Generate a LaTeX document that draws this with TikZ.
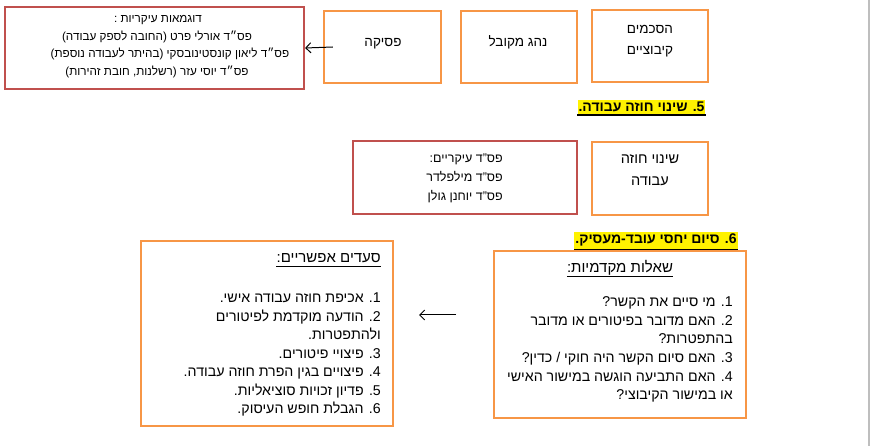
\documentclass[tikz,border=0pt]{standalone}
\usepackage{fontspec}
\setmainfont{Liberation Sans}[Script=Hebrew]
\usetikzlibrary{arrows.meta}
\TeXXeTstate=1
\newcommand\hbline[1]{\beginR#1\endR}
\definecolor{boxorange}{HTML}{F79646}
\definecolor{boxred}{HTML}{C0504D}
\definecolor{pagegray}{RGB}{190,190,190}
\tikzset{
  frame/.style={line width=2.2pt, inner sep=0pt, minimum width=#1},
  obox/.style={draw=boxorange, frame=#1},
  rbox/.style={draw=boxred, frame=#1},
  small/.style={inner sep=0pt, font=\fontsize{11.7}{14}\selectfont},
  body/.style={inner sep=0pt, font=\fontsize{12.5}{15}\selectfont},
  list/.style={inner sep=0pt, font=\fontsize{14.2}{17}\selectfont},
  label/.style={inner sep=0pt, font=\fontsize{13.5}{16}\selectfont},
  title/.style={inner sep=0pt, font=\fontsize{15}{18}\selectfont},
  heading/.style={inner xsep=1pt, inner ysep=2.5pt, fill=yellow, font=\bfseries\fontsize{14}{17}\selectfont},
  link/.style={line width=1pt, -{Straight Barb[length=5pt,width=10pt]}},
  uline/.style={line width=0.9pt},
  hline/.style={line width=1.6pt}
}
\begin{document}
\begin{tikzpicture}[x=1pt,y=-1pt]
\useasboundingbox (0,0) rectangle (870,446);
\draw[pagegray, line width=1.2pt] (869,0) -- (869,446);

% ---- first row: sources of labour law ----
\node[rbox=299pt, minimum height=82pt] (examples) at (154.5,48) {};
\node[obox=117pt, minimum height=72pt] (psika) at (382.5,47) {};
\node[obox=116pt, minimum height=72pt] (nohag) at (519,47) {};
\node[obox=116pt, minimum height=72pt] (heskem) at (650,46) {};

\node[small, anchor=base] (ex1) at (158,23) {\hbline{דוגמאות עיקריות :}};
\node[small, anchor=base] (ex2) at (157,40.5) {\hbline{פס״ד אורלי פרט (החובה לספק עבודה)}};
\node[small, anchor=base] (ex3) at (170,58) {\hbline{פס״ד ליאון קונסטינובסקי (בהיתר לעבודה נוספת)}};
\node[small, anchor=base] (ex4) at (157,76) {\hbline{פס״ד יוסי עזר (רשלנות, חובת זהירות)}};

\node[label, anchor=base] (psikaT) at (383,47) {\hbline{פסיקה}};
\node[label, anchor=base] (nohagT) at (518,47) {\hbline{נהג מקובל}};
\node[label, anchor=base] (heskemT1) at (650,34) {\hbline{הסכמים}};
\node[label, anchor=base] (heskemT2) at (650,55) {\hbline{קיבוציים}};

\draw[link] (psika.west) ++(10pt,0) coordinate (a1) (a1) -- (examples.east);

% ---- section 5 ----
\node[heading, anchor=base] (h5) at (641.5,112) {\hbline{5. שינוי חוזה עבודה.}};
\draw[hline] (h5.south west) -- (h5.south east);

\node[rbox=224pt, minimum height=73pt] (psak) at (465,177.5) {};
\node[obox=116pt, minimum height=73pt] (shinui) at (650,178.5) {};

\node[body, anchor=base east] (ps1) at (503,162.5) {\hbline{פס"ד עיקריים:}};
\node[body, anchor=base east] (ps2) at (503,181.5) {\hbline{פס"ד מילפלדר}};
\node[body, anchor=base east] (ps3) at (503,200.5) {\hbline{פס"ד יוחנן גולן}};

\node[label, font=\fontsize{14.5}{17}\selectfont, anchor=base] (shT1) at (650,164) {\hbline{שינוי חוזה}};
\node[label, font=\fontsize{14.5}{17}\selectfont, anchor=base] (shT2) at (650,186) {\hbline{עבודה}};

% ---- section 6 ----
\node[heading, anchor=base] (h6) at (656,244) {\hbline{6. סיום יחסי עובד-מעסיק.}};
\draw[hline] (h6.south west) -- (h6.south east);

\node[obox=252pt, minimum height=167pt] (sheelot) at (620,334.5) {};
\node[obox=252pt, minimum height=185pt] (sadim) at (267,333.5) {};

\node[title, anchor=base] (qT) at (620,273) {\hbline{שאלות מקדמיות:}};
\draw[uline] ([yshift=-3pt]qT.base west) -- ([yshift=-3pt]qT.base east);
\node[list, anchor=base east] (q1) at (733,306.5) {\hbline{1. מי סיים את הקשר?}};
\node[list, anchor=base east] (q2) at (733,325.5) {\hbline{2. האם מדובר בפיטורים או מדובר}};
\node[list, anchor=base east] (q2b) at (733,343.5) {\hbline{בהתפטרות?}};
\node[list, anchor=base east] (q3) at (733,362.5) {\hbline{3. האם סיום הקשר היה חוקי / כדין?}};
\node[list, anchor=base east] (q4) at (733,381) {\hbline{4. האם התביעה הוגשה במישור האישי}};
\node[list, anchor=base east] (q4b) at (733,399.5) {\hbline{או במישור הקיבוצי?}};

\node[title, anchor=base east] (sT) at (381,263) {\hbline{סעדים אפשריים:}};
\draw[uline] ([yshift=-3pt]sT.base west) -- ([yshift=-3pt]sT.base east);
\node[list, anchor=base east] (s1) at (381,302) {\hbline{1. אכיפת חוזה עבודה אישי.}};
\node[list, anchor=base east] (s2) at (381,321) {\hbline{2. הודעה מוקדמת לפיטורים}};
\node[list, anchor=base east] (s2b) at (381,339.5) {\hbline{ולהתפטרות.}};
\node[list, anchor=base east] (s3) at (381,358) {\hbline{3. פיצויי פיטורים.}};
\node[list, anchor=base east] (s4) at (381,376.5) {\hbline{4. פיצויים בגין הפרת חוזה עבודה.}};
\node[list, anchor=base east] (s5) at (381,395) {\hbline{5. פדיון זכויות סוציאליות.}};
\node[list, anchor=base east] (s6) at (381,413.5) {\hbline{6. הגבלת חופש העיסוק.}};

\coordinate (a2) at (456,315);
\coordinate (a2end) at (419,315);
\draw[link] (a2) -- (a2end);
\end{tikzpicture}
\end{document}
